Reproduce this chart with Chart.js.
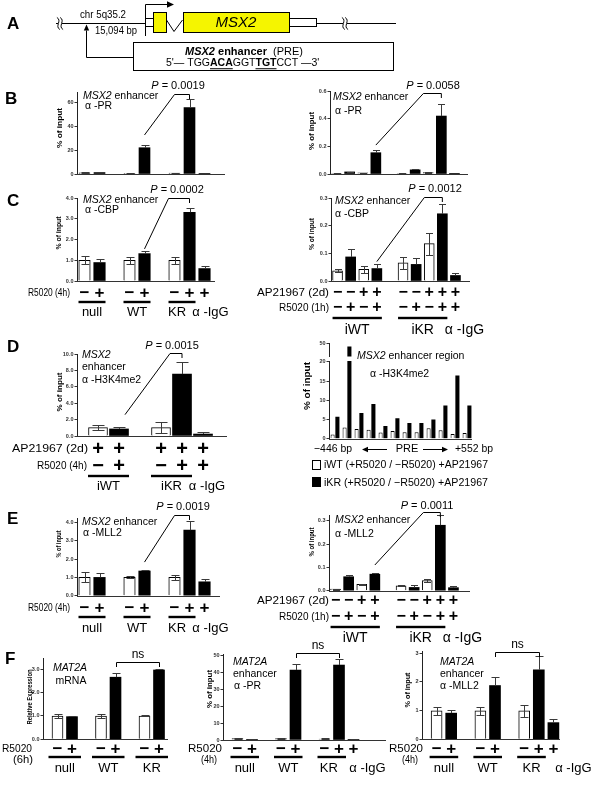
<!DOCTYPE html>
<html>
<head>
<meta charset="utf-8">
<title>MSX2 enhancer ChIP</title>
<script src="https://cdn.jsdelivr.net/npm/chart.js@4.4.1/dist/chart.umd.min.js"></script>
<style>
  html, body { margin: 0; padding: 0; background: #fff; }
  #stage { position: relative; width: 600px; height: 790px; overflow: hidden; }
  #stage canvas { position: absolute; left: 0; top: 0; }
</style>
</head>
<body>
<div id="stage"><canvas id="base" width="600" height="790"></canvas></div>
<script>
const FONT = '"Liberation Sans", Arial, Helvetica, sans-serif';
const AXIS_W = 14;

// layouts: null / WT / KR / IgG
const slotsPair = ['null −', 'null +', '', 'WT −', 'WT +', '', 'KR −', 'KR +', 'IgG +'];
const signsPair = ['−', '+', '', '−', '+', '', '−', '+', '+'];
const fillsPair = ['w', 'k', '', 'w', 'k', '', 'w', 'k', 'k'];

// layouts: iWT / iKR (AP21967 x R5020 1h)
const slotsInducible = ['iWT −/−', 'iWT −/+', 'iWT +/−', 'iWT +/+', '', 'iKR −/−', 'iKR −/+', 'iKR +/−', 'iKR +/+', 'IgG +/+'];
const apSigns = ['−', '−', '+', '+', '', '−', '−', '+', '+', '+'];
const r1hSigns = ['−', '+', '−', '+', '', '−', '+', '−', '+', '+'];
const fillsInducible = ['w', 'k', 'w', 'k', '', 'w', 'k', 'w', 'k', 'k'];

// panel D left
const slotsD = ['', 'iWT −', 'iWT +', '', 'iKR −', 'iKR +', 'IgG +'];
const apSignsD = ['', '+', '+', '', '+', '+', '+'];
const r4hSignsD = ['', '−', '+', '', '−', '+', '+'];
const fillsD = ['', 'w', 'k', '', 'w', 'k', 'k'];

// panel F
const slotsMRNA = ['', 'null −', 'null +', '', 'WT −', 'WT +', '', 'KR −', 'KR +'];
const signsMRNA = ['', '−', '+', '', '−', '+', '', '−', '+'];
const fillsMRNA = ['', 'w', 'k', '', 'w', 'k', '', 'w', 'k'];
const slotsF = ['', 'null −', 'null +', '', 'WT −', 'WT +', '', 'KR −', 'KR +', 'IgG +'];
const signsF = ['', '−', '+', '', '−', '+', '', '−', '+', '+'];
const fillsF = ['', 'w', 'k', '', 'w', 'k', '', 'w', 'k', 'k'];

// valores
const bLeftValues = [1.0, 1.2, null, 0.6, 21.9, null, 0.7, 55.3, 0.3];
const bLeftErrors = [0.4, 0.5, null, 0.2, 2.3, null, 0.3, 7.2, 0.1];
const bRightValues = [0.003, 0.015, 0.008, 0.154, null, 0.003, 0.03, 0.01, 0.419, 0.002];
const bRightErrors = [0.001, 0.002, 0.001, 0.019, null, 0.001, 0.004, 0.002, 0.087, 0];
const cLeftValues = [1.0, 0.89, null, 1.0, 1.32, null, 1.0, 3.31, 0.6];
const cLeftErrors = [0.19, 0.16, null, 0.16, 0.13, null, 0.16, 0.22, 0.13];
const cRightValues = [0.037, 0.087, 0.042, 0.045, null, 0.066, 0.06, 0.135, 0.243, 0.02];
const cRightErrors = [0.005, 0.027, 0.012, 0.018, null, 0.021, 0.023, 0.04, 0.036, 0.008];
const dLeftValues = [null, 1.02, 0.86, null, 1.02, 7.55, 0.24];
const dLeftErrors = [null, 0.33, 0.28, null, 0.65, 1.43, 0.29];
const dRegionSites = ['P1', 'P2', 'P3', 'P4', 'P5', 'P6', 'P7', 'P8', 'P9', 'P10', 'P11', 'P12'];
const dRegionIWT = [1.1, 2.9, 2.5, 2.3, 1.6, 2.0, 1.7, 1.7, 2.7, 2.2, 1.2, 1.5];
const dRegionIKR = [5.7, 47.5, 6.7, 9.0, 3.3, 5.3, 4.1, 4.1, 5.0, 8.6, 16.4, 8.6];
const dRegionLabels = ['iWT (+R5020 / −R5020) +AP21967', 'iKR (+R5020 / −R5020) +AP21967'];
const eLeftValues = [1.0, 1.0, null, 1.0, 1.35, null, 1.0, 3.58, 0.76];
const eLeftErrors = [0.27, 0.22, null, 0.05, 0.05, null, 0.13, 0.49, 0.15];
const eRightValues = [0.007, 0.06, 0.027, 0.071, null, 0.021, 0.014, 0.043, 0.281, 0.013];
const eRightErrors = [0.002, 0.007, 0.003, 0.005, null, 0.002, 0.01, 0.007, 0.043, 0.007];
const fLeftValues = [null, 1.0, 0.97, null, 1.0, 2.66, null, 1.0, 2.97];
const fLeftErrors = [null, 0.07, 0.03, null, 0.07, 0.2, null, 0.02, 0.06];
const fMidValues = [null, 0.8, 0.4, null, 0.8, 41.2, null, 0.6, 44.1, 0.4];
const fMidErrors = [null, 0.3, 0.2, null, 0.3, 3.3, null, 0.3, 3.4, 0.1];
const fRightValues = [null, 0.99, 0.91, null, 0.99, 1.87, null, 0.99, 2.42, 0.58];
const fRightErrors = [null, 0.13, 0.11, null, 0.15, 0.29, null, 0.21, 0.46, 0.13];

// ticks
const bLeftTicks = [0, 20, 40, 60];
const bRightTicks = [0, 0.2, 0.4, 0.6];
const cLeftTicks = [0, 1, 2, 3, 4];
const cRightTicks = [0, 0.1, 0.2, 0.3];
const dLeftTicks = [0, 2, 4, 6, 8, 10];
const dRegionTicks = [0, 5, 10, 15, 20];
const dRegionTopTicks = [50];
const eLeftTicks = [0, 1, 2, 3, 4];
const eRightTicks = [0, 0.1, 0.2, 0.3];
const fLeftTicks = [0, 1, 2, 3];
const fMidTicks = [0, 10, 20, 30, 40, 50];
const fRightTicks = [0, 1, 2, 3];

// texto com trechos (itálico / negrito / sublinhado)
function setFont(ctx, size, style) {
    ctx.font = (style.includes('i') ? 'italic ' : '') + (style.includes('b') ? 'bold ' : '') + size + 'px ' + FONT;
}

function drawRuns(ctx, runs, x, y, opt = {}) {
    const size = opt.size || 11;
    ctx.save();
    ctx.textBaseline = 'middle';
    ctx.textAlign = 'left';
    ctx.fillStyle = opt.color || '#000';
    let total = 0;
    const widths = runs.map(([t, s]) => {
        setFont(ctx, size, s);
        const w = ctx.measureText(t).width;
        total += w;
        return w;
    });
    const sx = opt.width ? opt.width / total : (opt.sx || 1);
    let cx = x;
    if (opt.align === 'center') cx = x - total * sx / 2;
    else if (opt.align === 'right') cx = x - total * sx;
    runs.forEach(([t, s], k) => {
        setFont(ctx, size, s);
        ctx.save();
        ctx.translate(cx, y);
        ctx.scale(sx, 1);
        ctx.fillText(t, 0, 0);
        ctx.restore();
        if (s.includes('u')) ctx.fillRect(cx, y + size * 0.45, widths[k] * sx, 1);
        cx += widths[k] * sx;
    });
    ctx.restore();
}

function arrowLine(ctx, x1, y1, x2, y2, head) {
    const a = Math.atan2(y2 - y1, x2 - x1);
    ctx.beginPath();
    ctx.moveTo(x1, y1);
    ctx.lineTo(x2 - Math.cos(a) * head, y2 - Math.sin(a) * head);
    ctx.stroke();
    ctx.beginPath();
    ctx.moveTo(x2, y2);
    ctx.lineTo(x2 - Math.cos(a) * head - Math.sin(a) * head * 0.45, y2 - Math.sin(a) * head + Math.cos(a) * head * 0.45);
    ctx.lineTo(x2 - Math.cos(a) * head + Math.sin(a) * head * 0.45, y2 - Math.sin(a) * head - Math.cos(a) * head * 0.45);
    ctx.closePath();
    ctx.fill();
}

// decoração de cada gráfico (por id do canvas)
const decor = {};

const decorPlugin = {
    id: 'decor',
    afterDatasetsDraw(chart) {
        const o = decor[chart.canvas.id];
        if (!o || !o.errors) return;
        const ctx = chart.ctx, xs = chart.scales.x, ys = chart.scales.y;
        ctx.save();
        ctx.strokeStyle = '#3a3a3a';
        ctx.lineWidth = 1;
        o.errors.forEach((e, i) => {
            const v = o.values[i];
            if (v == null || e == null || e === 0) return;
            const x = Math.round(xs.getPixelForValue(i)) + 0.5;
            const yT = Math.round(ys.getPixelForValue(v + e)) + 0.5;
            const white = o.fills[i] === 'w';
            const yB = white ? Math.round(ys.getPixelForValue(Math.max(v - e, 0))) + 0.5 : ys.getPixelForValue(v);
            ctx.beginPath();
            ctx.moveTo(x, yB); ctx.lineTo(x, yT);
            ctx.moveTo(x - o.cap, yT); ctx.lineTo(x + o.cap, yT);
            if (white) { ctx.moveTo(x - o.cap, yB); ctx.lineTo(x + o.cap, yB); }
            ctx.stroke();
        });
        ctx.restore();
    },
    afterDraw(chart) {
        const o = decor[chart.canvas.id];
        if (!o) return;
        const ctx = chart.ctx, xs = chart.scales.x, ys = chart.scales.y, area = chart.chartArea;
        const px = i => xs.getPixelForValue(i);
        ctx.save();
        ctx.strokeStyle = '#000';
        ctx.fillStyle = '#000';
        ctx.lineWidth = 1;

        // eixo x
        if (o.axisEnd) {
            const y = Math.round(area.bottom) + 0.5;
            ctx.strokeStyle = '#333';
            ctx.beginPath(); ctx.moveTo(area.left, y); ctx.lineTo(o.axisEnd, y); ctx.stroke();
            ctx.strokeStyle = '#000';
        }

        // linhas de tratamento (− / +)
        (o.rows || []).forEach(r => {
            drawRuns(ctx, [[r.title, '']], r.x2, r.y, { size: 11, align: 'right', width: r.w });
            (r.signs || []).forEach((s, i) => {
                if (s) drawRuns(ctx, [[s, 'b']], px(i), r.y, { size: o.signSize || 17, align: 'center' });
            });
        });

        // grupos sublinhados
        if (o.groups) {
            const g = o.groups;
            g.items.forEach(it => {
                const xa = px(it.a), xb = px(it.b);
                if (!it.noLine) ctx.fillRect(xa - g.pad, g.lineY - 1.2, xb - xa + 2 * g.pad, 2.4);
                drawRuns(ctx, [[it.t, '']], (xa + xb) / 2 + (it.dx || 0), g.labelY, { size: g.size || 13, align: 'center' });
            });
        }

        // P-valor
        if (o.pval) {
            const p = o.pval;
            const x2 = px(p.to), x1 = x2 - p.len;
            const xf = px(p.from) + (p.dx || 0);
            const yf = ys.getPixelForValue(o.values[p.from] + o.errors[p.from]) - p.gap;
            ctx.beginPath();
            ctx.moveTo(xf, yf);
            ctx.lineTo(x1, p.lineY + 0.5);
            ctx.lineTo(x2, p.lineY + 0.5);
            ctx.lineTo(x2, p.lineY + 5);
            ctx.stroke();
            drawRuns(ctx, [['P', 'i'], [' = ' + p.text, '']], p.textX, p.textY, { size: 11, align: 'center' });
        }

        // ns
        if (o.ns) {
            const n = o.ns;
            const xa = Math.round(px(n.a)) + 0.5, xb = Math.round(px(n.b)) + 0.5;
            ctx.beginPath();
            ctx.moveTo(xa, n.lineY + 5);
            ctx.lineTo(xa, n.lineY + 0.5);
            ctx.lineTo(xb, n.lineY + 0.5);
            ctx.lineTo(xb, n.lineY + 5);
            ctx.stroke();
            drawRuns(ctx, [['ns', '']], (xa + xb) / 2, n.textY, { size: 12, align: 'center' });
        }

        (o.notes || []).forEach(n => {
            drawRuns(ctx, n.runs, n.x, n.y, { size: n.size || o.noteSize || 10.5, align: n.align || 'left' });
        });

        if (o.yTitle) {
            const t = o.yTitle;
            ctx.save();
            ctx.translate(t.x, t.y);
            ctx.rotate(-Math.PI / 2);
            drawRuns(ctx, [[t.text, 'b']], 0, 0, { size: t.size || 8, align: 'center', width: t.width });
            ctx.restore();
        }

        if (o.extra) o.extra(ctx, chart);
        ctx.restore();
    }
};

Chart.register(decorPlugin);

function fillDataset(values, fills, thickness) {
    return {
        data: values,
        backgroundColor: fills.map(f => f === 'w' ? '#ffffff' : '#000000'),
        borderColor: '#000000',
        borderWidth: fills.map(f => f === 'w' ? 1 : 0),
        barThickness: thickness,
        clip: false
    };
}

function makeBarChart(id, cfg) {
    const canvas = document.createElement('canvas');
    canvas.id = id;
    canvas.width = 600;
    canvas.height = 790;
    document.getElementById('stage').appendChild(canvas);
    decor[id] = cfg.decor || {};
    const [left, top, right, bottom] = cfg.box;
    return new Chart(canvas, {
        type: 'bar',
        data: { labels: cfg.labels, datasets: cfg.datasets },
        options: {
            responsive: false,
            animation: false,
            events: [],
            layout: { padding: { left: left - AXIS_W, top: top, right: 600 - right, bottom: 790 - bottom } },
            plugins: { legend: { display: false }, tooltip: { enabled: false } },
            scales: {
                x: {
                    type: 'category',
                    offset: cfg.offset !== false,
                    grid: { display: false },
                    border: { display: false },
                    ticks: { display: false },
                    afterFit: s => { s.height = 0; }
                },
                y: {
                    min: cfg.min || 0,
                    max: cfg.max,
                    afterBuildTicks: s => { s.ticks = cfg.ticks.map(v => ({ value: v })); },
                    afterFit: s => { s.width = AXIS_W; },
                    ticks: {
                        padding: 1,
                        color: '#333',
                        font: { family: FONT, size: 5.5, weight: 'bold' },
                        callback: v => Number(v).toFixed(cfg.decimals || 0)
                    },
                    grid: { drawOnChartArea: false, drawTicks: true, tickLength: 2.5, color: '#333' },
                    border: { display: true, color: '#222', width: 1 }
                }
            }
        }
    });
}

// ---------- painel A + letras ----------
function drawBreak(ctx, x, y) {
    ctx.save();
    ctx.fillStyle = '#fff';
    ctx.fillRect(x - 2, y - 1.5, 4, 3);
    ctx.strokeStyle = '#000';
    [x - 1.6, x + 1.6].forEach(cx => {
        ctx.beginPath();
        ctx.moveTo(cx - 1.5, y - 6);
        ctx.bezierCurveTo(cx + 4, y - 3, cx - 4, y + 3, cx + 1.5, y + 6);
        ctx.stroke();
    });
    ctx.restore();
}

function drawBase() {
    const ctx = document.getElementById('base').getContext('2d');
    ctx.strokeStyle = '#000';
    ctx.fillStyle = '#000';
    ctx.lineWidth = 1;
    const line = (a, b, c, d) => { ctx.beginPath(); ctx.moveTo(a, b); ctx.lineTo(c, d); ctx.stroke(); };

    line(56, 23.5, 145, 23.5);
    drawBreak(ctx, 60, 23.5);
    drawRuns(ctx, [['chr 5q35.2', '']], 80, 15, { size: 11, width: 46 });
    drawRuns(ctx, [['15,094 bp', '']], 95, 31, { size: 11, width: 42 });

    // seta até o enhancer
    line(86.5, 57.5, 133.5, 57.5);
    arrowLine(ctx, 86.5, 57.5, 86.5, 24.5, 6);
    ctx.strokeRect(133.5, 42.5, 260, 28);
    drawRuns(ctx, [['MSX2', 'bi'], [' enhancer', 'b'], ['  (PRE)', '']], 185, 52, { size: 11 });
    drawRuns(ctx, [["5'— TGG", ''], ['ACA', 'bu'], ['GGT', ''], ['TGT', 'bu'], ["CCT —3'", '']], 166, 63.5, { size: 10.5 });

    // gene
    line(145.5, 36, 145.5, 4.5);
    arrowLine(ctx, 145.5, 4.5, 174, 4.5, 7);
    line(145.5, 18.5, 153, 18.5);
    line(145.5, 26.5, 153, 26.5);
    ctx.fillStyle = '#f5f500';
    ctx.fillRect(153.5, 12.5, 13, 20);
    ctx.strokeRect(153.5, 12.5, 13, 20);
    ctx.beginPath();
    ctx.moveTo(166.5, 20); ctx.lineTo(174, 31.5); ctx.lineTo(182.5, 20);
    ctx.stroke();
    ctx.fillStyle = '#f5f500';
    ctx.fillRect(183.5, 12.5, 106, 20);
    ctx.strokeRect(183.5, 12.5, 106, 20);
    drawRuns(ctx, [['MSX2', 'i']], 236, 22.5, { size: 15, align: 'center' });
    ctx.strokeRect(289.5, 18.5, 27, 8);
    line(316.5, 23.5, 396, 23.5);
    drawBreak(ctx, 345, 23.5);

    // letras dos painéis
    [['A', 7, 24], ['B', 5, 99.5], ['C', 7, 201], ['D', 7, 347.5], ['E', 7, 519], ['F', 5, 659]].forEach(([t, x, y]) => {
        drawRuns(ctx, [[t, 'b']], x, y, { size: 17 });
    });
}

drawBase();

const msx2Note = (x, y) => ({ x, y, runs: [['MSX2', 'i'], [' enhancer', '']] });
const pairGroups = (lineY, labelY, igDx) => ({
    lineY, labelY, pad: 6,
    items: [{ t: 'null', a: 0, b: 1 }, { t: 'WT', a: 3, b: 4 }, { t: 'KR', a: 6, b: 7, dx: -5 }, { t: 'α -IgG', a: 8, b: 8, noLine: true, dx: igDx }]
});
const inducibleGroups = (lineY, labelY) => ({
    lineY, labelY, pad: 5, size: 14,
    items: [{ t: 'iWT', a: 0, b: 3 }, { t: 'iKR', a: 5, b: 8 }, { t: 'α -IgG', a: 9, b: 9, noLine: true, dx: 9 }]
});

// ---------- B ----------
makeBarChart('bLeft', {
    labels: slotsPair, datasets: [fillDataset(bLeftValues, fillsPair, 11)],
    box: [77, 92.4, 212, 174], max: 68, ticks: bLeftTicks, decimals: 0,
    decor: {
        values: bLeftValues, errors: bLeftErrors, fills: fillsPair, cap: 4, axisEnd: 225,
        pval: { text: '0.0019', from: 4, to: 7, len: 15, lineY: 94, textX: 178, textY: 86, gap: 10 },
        notes: [msx2Note(83, 96), { x: 85, y: 106, runs: [['α -PR', '']] }],
        yTitle: { text: '% of input', x: 60, y: 128, width: 40 }
    }
});

makeBarChart('bRight', {
    labels: slotsInducible, datasets: [fillDataset(bRightValues, fillsInducible, 10)],
    box: [330, 91, 461, 174], max: 0.6, ticks: bRightTicks, decimals: 1,
    decor: {
        values: bRightValues, errors: bRightErrors, fills: fillsInducible, cap: 3.5, axisEnd: 468,
        pval: { text: '0.0058', from: 3, to: 8, len: 18, lineY: 93, textX: 433, textY: 86, gap: 5 },
        notes: [msx2Note(333, 97), { x: 335, y: 111, runs: [['α -PR', '']] }],
        yTitle: { text: '% of input', x: 312, y: 131, width: 38 }
    }
});

// ---------- C ----------
makeBarChart('cLeft', {
    labels: slotsPair, datasets: [fillDataset(cLeftValues, fillsPair, 11.5)],
    box: [77, 198, 212, 281], max: 4, ticks: cLeftTicks, decimals: 1,
    decor: {
        values: cLeftValues, errors: cLeftErrors, fills: fillsPair, cap: 4, axisEnd: 215,
        rows: [{ title: 'R5020 (4h)', x2: 70, w: 42, y: 293, signs: signsPair }],
        groups: pairGroups(302, 312, 6),
        pval: { text: '0.0002', from: 4, to: 7, len: 21, lineY: 198, textX: 177, textY: 190, gap: 2 },
        notes: [msx2Note(83, 200), { x: 85, y: 210, runs: [['α -CBP', '']] }],
        yTitle: { text: '% of input', x: 59, y: 233, width: 33 }
    }
});

makeBarChart('cRight', {
    labels: slotsInducible, datasets: [fillDataset(cRightValues, fillsInducible, 10)],
    box: [331, 198, 462, 281], max: 0.3, ticks: cRightTicks, decimals: 1,
    decor: {
        values: cRightValues, errors: cRightErrors, fills: fillsInducible, cap: 3.5, axisEnd: 470, signSize: 16,
        rows: [
            { title: 'AP21967 (2d)', x2: 329, w: 72, y: 293, signs: apSigns },
            { title: 'R5020 (1h)', x2: 329, w: 50, y: 308, signs: r1hSigns }
        ],
        groups: inducibleGroups(318, 330),
        pval: { text: '0.0012', from: 3, to: 8, len: 18, lineY: 197, textX: 435, textY: 189, gap: 2 },
        notes: [msx2Note(335, 201), { x: 335, y: 214, runs: [['α -CBP', '']] }],
        yTitle: { text: '% of input', x: 312, y: 234, width: 32 }
    }
});

// ---------- D ----------
makeBarChart('dLeft', {
    labels: slotsD, datasets: [fillDataset(dLeftValues, fillsD, 19)],
    box: [77, 354, 203, 436], max: 10, ticks: dLeftTicks, decimals: 1, offset: false,
    decor: {
        values: dLeftValues, errors: dLeftErrors, fills: fillsD, cap: 6, axisEnd: 227, signSize: 20,
        rows: [
            { title: 'AP21967 (2d)', x2: 88, w: 76, y: 449, signs: apSignsD },
            { title: 'R5020 (4h)', x2: 87, w: 50, y: 466, signs: r4hSignsD }
        ],
        groups: {
            lineY: 476, labelY: 486, pad: 10,
            items: [{ t: 'iWT', a: 1, b: 2 }, { t: 'iKR', a: 4, b: 5 }, { t: 'α -IgG', a: 6, b: 6, noLine: true, dx: 4 }]
        },
        pval: { text: '0.0015', from: 2, to: 5, len: 12, lineY: 353, textX: 172, textY: 346, gap: 12, dx: 6 },
        notes: [
            { x: 82, y: 355, runs: [['MSX2', 'i']] },
            { x: 82, y: 367, runs: [['enhancer', '']] },
            { x: 82, y: 380, runs: [['α -H3K4me2', '']] }
        ],
        yTitle: { text: '% of input', x: 60, y: 392, width: 39 }
    }
});

function regionDatasets() {
    return [
        { label: dRegionLabels[0], data: dRegionIWT, backgroundColor: '#ffffff', borderColor: '#000', borderWidth: 1,
          categoryPercentage: 0.8, barPercentage: 0.85, clip: 0 },
        { label: dRegionLabels[1], data: dRegionIKR, backgroundColor: '#000000', borderWidth: 0,
          categoryPercentage: 0.8, barPercentage: 0.85, clip: 0 }
    ];
}

function drawRegionLabels(ctx, chart) {
    ctx.strokeStyle = '#000';
    ctx.fillStyle = '#000';
    drawRuns(ctx, [['−446 bp', '']], 314, 449, { size: 11, width: 38 });
    arrowLine(ctx, 387, 449.5, 362, 449.5, 6);
    drawRuns(ctx, [['PRE', '']], 407, 449, { size: 11, align: 'center' });
    arrowLine(ctx, 423, 449.5, 448, 449.5, 6);
    drawRuns(ctx, [['+552 bp', '']], 455, 449, { size: 11, width: 38 });
    // legenda
    const ds = chart.data.datasets;
    ctx.fillStyle = '#fff';
    ctx.fillRect(312.5, 460.5, 8, 9);
    ctx.strokeRect(312.5, 460.5, 8, 9);
    ctx.fillStyle = '#000';
    ctx.fillRect(312, 477, 9, 10);
    drawRuns(ctx, [[ds[0].label, '']], 324, 465, { size: 11, width: 164 });
    drawRuns(ctx, [[ds[1].label, '']], 324, 483, { size: 11, width: 164 });
}

makeBarChart('dRegion', {
    labels: dRegionSites, datasets: regionDatasets(),
    box: [329, 361, 473, 438.7], max: 20.2, ticks: dRegionTicks, decimals: 0,
    decor: {
        axisEnd: 472,
        notes: [
            { x: 357, y: 356, runs: [['MSX2', 'i'], [' enhancer region', '']] },
            { x: 370, y: 374, runs: [['α -H3K4me2', '']] }
        ],
        yTitle: { text: '% of input', x: 308, y: 386, width: 48, size: 9 },
        extra: drawRegionLabels
    }
});

makeBarChart('dRegionTop', {
    labels: dRegionSites, datasets: regionDatasets(),
    box: [329, 343.3, 473, 356.5], min: 40, max: 50, ticks: dRegionTopTicks, decimals: 0
});

// ---------- E ----------
makeBarChart('eLeft', {
    labels: slotsPair, datasets: [fillDataset(eLeftValues, fillsPair, 11.5)],
    box: [77, 518.3, 212, 595.7], max: 4.23, ticks: eLeftTicks, decimals: 1,
    decor: {
        values: eLeftValues, errors: eLeftErrors, fills: fillsPair, cap: 4, axisEnd: 220,
        rows: [{ title: 'R5020 (4h)', x2: 70, w: 42, y: 608, signs: signsPair }],
        groups: pairGroups(617, 628, 6),
        pval: { text: '0.0019', from: 4, to: 7, len: 15, lineY: 515, textX: 183, textY: 507, gap: 8 },
        notes: [msx2Note(82, 522), { x: 83, y: 533, runs: [['α -MLL2', '']] }],
        yTitle: { text: '% of input', x: 59, y: 544, width: 27 }
    }
});

makeBarChart('eRight', {
    labels: slotsInducible, datasets: [fillDataset(eRightValues, fillsInducible, 10)],
    box: [329, 515, 460, 590.7], max: 0.325, ticks: eRightTicks, decimals: 1,
    decor: {
        values: eRightValues, errors: eRightErrors, fills: fillsInducible, cap: 3.5, axisEnd: 470, signSize: 16,
        rows: [
            { title: 'AP21967 (2d)', x2: 329, w: 72, y: 601, signs: apSigns },
            { title: 'R5020 (1h)', x2: 329, w: 50, y: 617, signs: r1hSigns }
        ],
        groups: inducibleGroups(627, 638),
        pval: { text: '0.0011', from: 3, to: 8, len: 17, lineY: 512, textX: 427, textY: 506, gap: 8 },
        notes: [msx2Note(335, 520), { x: 335, y: 534, runs: [['α -MLL2', '']] }],
        yTitle: { text: '% of input', x: 312, y: 542, width: 29 }
    }
});

// ---------- F ----------
makeBarChart('fLeft', {
    labels: slotsMRNA, datasets: [fillDataset(fLeftValues, fillsMRNA, 11)],
    box: [43, 658.3, 159, 739.3], max: 3.47, ticks: fLeftTicks, decimals: 1, offset: false,
    decor: {
        values: fLeftValues, errors: fLeftErrors, fills: fillsMRNA, cap: 4, axisEnd: 168,
        rows: [
            { title: 'R5020', x2: 32, w: 30, y: 749, signs: signsMRNA },
            { title: '(6h)', x2: 33, w: 20, y: 760 }
        ],
        groups: { lineY: 757, labelY: 768, pad: 9, items: [{ t: 'null', a: 1, b: 2 }, { t: 'WT', a: 4, b: 5 }, { t: 'KR', a: 7, b: 8 }] },
        ns: { a: 5, b: 8, lineY: 662, textY: 655 },
        notes: [
            { x: 70, y: 668, align: 'center', runs: [['MAT2A', 'i']] },
            { x: 71, y: 681, align: 'center', runs: [['mRNA', '']] }
        ],
        yTitle: { text: 'Relative Expression', x: 30, y: 697, width: 55, size: 6.5 }
    }
});

makeBarChart('fMid', {
    labels: slotsF, datasets: [fillDataset(fMidValues, fillsF, 11)],
    box: [223, 654, 353.5, 740], max: 50.6, ticks: fMidTicks, decimals: 0, offset: false,
    decor: {
        values: fMidValues, errors: fMidErrors, fills: fillsF, cap: 4, axisEnd: 386,
        rows: [
            { title: 'R5020', x2: 222, w: 34, y: 749, signs: signsF },
            { title: '(4h)', x2: 217, w: 16, y: 760 }
        ],
        groups: { lineY: 757, labelY: 768, pad: 7, items: [{ t: 'null', a: 1, b: 2 }, { t: 'WT', a: 4, b: 5 }, { t: 'KR', a: 7, b: 8, dx: -3 }, { t: 'α -IgG', a: 9, b: 9, noLine: true, dx: 14 }] },
        ns: { a: 5, b: 8, lineY: 653, textY: 646 },
        notes: [
            { x: 233, y: 662, runs: [['MAT2A', 'i']] },
            { x: 233, y: 674, runs: [['enhancer', '']] },
            { x: 234, y: 686, runs: [['α -PR', '']] }
        ],
        yTitle: { text: '% of input', x: 210, y: 689, width: 38 }
    }
});

makeBarChart('fRight', {
    labels: slotsF, datasets: [fillDataset(fRightValues, fillsF, 11)],
    box: [422, 651.6, 553.4, 739.3], max: 3.05, ticks: fRightTicks, decimals: 0, offset: false,
    decor: {
        values: fRightValues, errors: fRightErrors, fills: fillsF, cap: 4, axisEnd: 560,
        rows: [
            { title: 'R5020', x2: 423, w: 34, y: 749, signs: signsF },
            { title: '(4h)', x2: 418, w: 16, y: 760 }
        ],
        groups: { lineY: 757, labelY: 768, pad: 7, items: [{ t: 'null', a: 1, b: 2 }, { t: 'WT', a: 4, b: 5 }, { t: 'KR', a: 7, b: 8 }, { t: 'α -IgG', a: 9, b: 9, noLine: true, dx: 20 }] },
        ns: { a: 5, b: 8, lineY: 652, textY: 645 },
        notes: [
            { x: 440, y: 662, runs: [['MAT2A', 'i']] },
            { x: 440, y: 674, runs: [['enhancer', '']] },
            { x: 440, y: 686, runs: [['α -MLL2', '']] }
        ],
        yTitle: { text: '% of input', x: 408, y: 690, width: 35 }
    }
});
</script>
</body>
</html>
